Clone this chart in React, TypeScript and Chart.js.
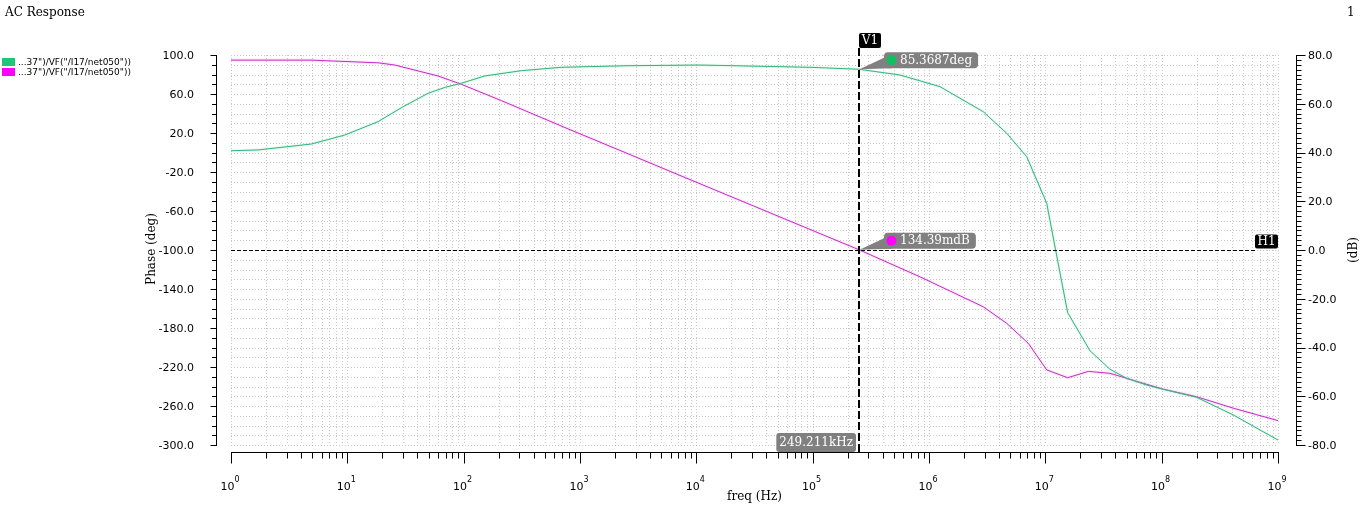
import React, { useEffect, useRef } from "react";
import { Chart, registerables } from "chart.js";

Chart.register(...registerables);

// ---- data ----
const phaseFreq = [1, 1.707, 4.9, 9.49, 18.35, 30, 49.4, 70, 95.4, 151.7, 313, 691, 2586, 10760, 94900, 249211, 563600, 1.244e6, 2.93e6, 4.66e6, 6.92e6, 1.028e7, 1.337e7, 1.557e7, 2.42e7, 3.6e7, 5.01e7, 7.44e7, 1.033e8, 2.0e8, 4.13e8, 1e9];
const phaseDeg = [1.8, 2.6, 8.7, 17.9, 31.6, 46.8, 60.7, 67.0, 71.0, 78.5, 83.9, 87.4, 89.0, 89.7, 87.4, 85.3687, 79.5, 67.5, 41.8, 19.7, -4.3, -52.1, -123.6, -164.3, -203.3, -222.4, -231.6, -238.5, -242.9, -251.1, -269.2, -294.9];

const magFreq = [1, 4.87, 18.35, 25.5, 60.2, 95.4, 210.6, 788.6, 2586, 4873, 30880, 249211, 837200, 2.93e6, 4.66e6, 7.14e6, 1.028e7, 1.557e7, 2.342e7, 3.6e7, 7.44e7, 1.033e8, 2.0e8, 4.13e8, 1e9];
const magDb = [77.9, 77.9, 76.8, 75.9, 71.4, 68.0, 61.3, 49.7, 39.5, 34.0, 18.1, 0.13439, -11.0, -23.3, -30.1, -38.3, -49.2, -52.4, -49.8, -50.6, -55.1, -57.1, -60.2, -64.9, -70.0];

const legendLabels = ['...37")/VF("/I17/net050"))', '...37")/VF("/I17/net050"))'];
const leftTicks = [100, 60, 20, -20, -60, -100, -140, -180, -220, -260, -300];
const rightTicks = [80, 60, 40, 20, 0, -20, -40, -60, -80];
const xTickExps = [0, 1, 2, 3, 4, 5, 6, 7, 8, 9];

const cursorFreq = 249211;
const cursorFreqLabel = "249.211kHz";
const cursorPhase = 85.3687;
const cursorPhaseLabel = "85.3687deg";
const cursorMag = 0.13439;
const cursorMagLabel = "134.39mdB";
const hLevelDb = 0;

const GREEN = "#1cc878";
const GREEN_LINE = "#34b47e";
const MAG = "#ff00ff";
const MAG_LINE = "#c42ec4";

const SERIF = '"DejaVu Serif"';
const SANS = '"DejaVu Sans"';

function seg(ctx: CanvasRenderingContext2D, x1: number, y1: number, x2: number, y2: number) {
  ctx.beginPath();
  ctx.moveTo(x1, y1);
  ctx.lineTo(x2, y2);
  ctx.stroke();
}

const decor = {
  id: "decor",
  beforeDatasetsDraw(chart: any) {
    const { ctx, chartArea: a, scales } = chart;
    const x = scales.x, yL = scales.yL;
    ctx.save();
    ctx.strokeStyle = "#c9c9c9";
    ctx.lineWidth = 1;
    ctx.setLineDash([1, 2]);
    for (let v = -300; v <= 100; v += 10) {
      const py = Math.round(yL.getPixelForValue(v)) + 0.5;
      seg(ctx, a.left, py, a.right, py);
    }
    for (const e of xTickExps) {
      for (let m = 1; m <= 9; m++) {
        if (e === 9 && m > 1) break;
        const px = Math.round(x.getPixelForValue(m * Math.pow(10, e))) + 0.5;
        seg(ctx, px, a.top, px, a.bottom);
      }
    }
    ctx.restore();
  },
  beforeDatasetDraw(chart: any, args: any) {
    const ctx = chart.ctx;
    ctx.save();
    ctx.shadowColor = args.index === 0 ? "rgba(120,220,170,0.7)" : "rgba(250,130,250,0.7)";
    ctx.shadowBlur = 2;
  },
  afterDatasetDraw(chart: any) {
    chart.ctx.restore();
  },
  afterDatasetsDraw(chart: any) {
    const { ctx, chartArea: a, scales } = chart;
    const x = scales.x, yL = scales.yL, yR = scales.yR;
    ctx.save();

    // H1 horizontal cursor
    const hy = Math.round(yR.getPixelForValue(hLevelDb)) + 0.5;
    ctx.strokeStyle = "#000";
    ctx.lineWidth = 1;
    ctx.setLineDash([4, 2]);
    seg(ctx, a.left, hy, a.right - 23, hy);
    ctx.setLineDash([]);
    ctx.fillStyle = "#000";
    ctx.beginPath();
    ctx.roundRect(a.right - 23, hy - 16, 23, 14, 2);
    ctx.fill();
    ctx.fillStyle = "#fff";
    ctx.font = `12px ${SERIF}`;
    ctx.textAlign = "center";
    ctx.textBaseline = "middle";
    ctx.fillText("H1", a.right - 11.5, hy - 8.5);

    // V1 vertical cursor
    const vx = Math.round(x.getPixelForValue(cursorFreq));
    ctx.strokeStyle = "#000";
    ctx.lineWidth = 2;
    ctx.setLineDash([8, 3]);
    seg(ctx, vx, 48, vx, 452);
    ctx.setLineDash([]);
    ctx.fillStyle = "#000";
    ctx.beginPath();
    ctx.roundRect(vx, 33, 22, 15, 2);
    ctx.fill();
    ctx.fillStyle = "#fff";
    ctx.fillText("V1", vx + 11, 41);

    // marker annotations
    const marker = (py: number, color: string, text: string) => {
      ctx.font = `12px ${SERIF}`;
      const tw = ctx.measureText(text).width;
      const bl = vx + 25, bt = py - 17, bh = 16, bw = tw + 22;
      ctx.fillStyle = "#808080";
      ctx.beginPath();
      ctx.moveTo(vx + 0.5, py);
      ctx.lineTo(bl + 1, bt + 5);
      ctx.lineTo(bl + 8, bt + bh);
      ctx.closePath();
      ctx.fill();
      ctx.beginPath();
      ctx.roundRect(bl, bt, bw, bh, 4);
      ctx.fill();
      ctx.fillStyle = color;
      ctx.beginPath();
      ctx.arc(bl + 7.5, bt + 8, 5, 0, Math.PI * 2);
      ctx.closePath();
      ctx.fill();
      ctx.fillStyle = "#fff";
      ctx.textAlign = "left";
      ctx.textBaseline = "middle";
      ctx.fillText(text, bl + 16, bt + 8.5);
    };
    marker(yL.getPixelForValue(cursorPhase), "#10c060", cursorPhaseLabel);
    marker(yR.getPixelForValue(cursorMag), MAG, cursorMagLabel);

    // x cursor label
    ctx.font = `12px ${SERIF}`;
    const fw = ctx.measureText(cursorFreqLabel).width + 6;
    ctx.fillStyle = "#808080";
    ctx.beginPath();
    ctx.roundRect(vx - 3 - fw, 433, fw, 19, 3);
    ctx.fill();
    ctx.fillStyle = "#fff";
    ctx.textAlign = "center";
    ctx.textBaseline = "middle";
    ctx.fillText(cursorFreqLabel, vx - 3 - fw / 2, 443);

    // ---- axes ----
    ctx.strokeStyle = "#000";
    ctx.fillStyle = "#000";
    ctx.lineWidth = 1;

    // left axis
    const axL = 216.5;
    seg(ctx, axL, Math.round(yL.getPixelForValue(100)), axL, Math.round(yL.getPixelForValue(-300)) + 1);
    for (let v = -300; v <= 100; v += 10) {
      const py = Math.round(yL.getPixelForValue(v)) + 0.5;
      const major = leftTicks.includes(v);
      seg(ctx, axL - (major ? 6 : 4.5), py, axL, py);
    }
    ctx.font = `11px ${SANS}`;
    ctx.textAlign = "right";
    ctx.textBaseline = "middle";
    for (const v of leftTicks) {
      ctx.fillText(v.toFixed(1), 194, yL.getPixelForValue(v) + 1);
    }

    // right axis
    const axR = 1296.5;
    seg(ctx, axR, Math.round(yR.getPixelForValue(80)), axR, Math.round(yR.getPixelForValue(-80)) + 1);
    for (let v = -80; v <= 80; v += 2) {
      const py = Math.round(yR.getPixelForValue(v)) + 0.5;
      const major = rightTicks.includes(v);
      seg(ctx, axR, py, axR + (major ? 9 : 5), py);
    }
    ctx.textAlign = "left";
    for (const v of rightTicks) {
      ctx.fillText(v.toFixed(1), 1308, yR.getPixelForValue(v) + 1);
    }

    // bottom axis
    const axB = 452.5;
    seg(ctx, Math.round(x.getPixelForValue(1)), axB, Math.round(x.getPixelForValue(1e9)) + 1, axB);
    for (const e of xTickExps) {
      for (let m = 1; m <= 9; m++) {
        if (e === 9 && m > 1) break;
        const px = Math.round(x.getPixelForValue(m * Math.pow(10, e))) + 0.5;
        seg(ctx, px, axB, px, axB + (m === 1 ? 11 : 6));
      }
    }
    ctx.textBaseline = "alphabetic";
    ctx.textAlign = "left";
    for (const e of xTickExps) {
      const px = x.getPixelForValue(Math.pow(10, e));
      ctx.font = `11px ${SANS}`;
      const w1 = ctx.measureText("10").width;
      ctx.font = `8px ${SANS}`;
      const w2 = ctx.measureText(String(e)).width;
      const sx = px - (w1 + w2) / 2 - 1;
      ctx.font = `11px ${SANS}`;
      ctx.fillText("10", sx, 490);
      ctx.font = `8px ${SANS}`;
      ctx.fillText(String(e), sx + w1, 482);
    }

    // axis titles
    ctx.font = `12px ${SERIF}`;
    ctx.textAlign = "center";
    ctx.textBaseline = "middle";
    ctx.fillText("freq (Hz)", (a.left + a.right) / 2, 497);
    ctx.save();
    ctx.translate(152, 249);
    ctx.rotate(-Math.PI / 2);
    ctx.fillText("Phase (deg)", 0, 0);
    ctx.restore();
    ctx.save();
    ctx.translate(1354, 250);
    ctx.rotate(-Math.PI / 2);
    ctx.fillText("(dB)", 0, 0);
    ctx.restore();

    // title & page number
    ctx.textAlign = "left";
    ctx.font = `12px ${SERIF}`;
    ctx.fillText("AC Response", 5, 13);
    ctx.fillText("1", 1347, 13);

    // legend
    const legColors = [GREEN, MAG];
    ctx.font = `9px ${SANS}`;
    legendLabels.forEach((lab, i) => {
      const ly = 58 + i * 10;
      ctx.fillStyle = legColors[i];
      ctx.fillRect(2, ly, 13, 8);
      ctx.fillStyle = "#000";
      ctx.fillText(lab, 18, ly + 4.5);
    });

    ctx.restore();
  },
};

export default function App() {
  const ref = useRef<HTMLCanvasElement>(null);
  useEffect(() => {
    const chart = new Chart(ref.current as HTMLCanvasElement, {
      type: "line",
      data: {
        datasets: [
          {
            label: legendLabels[0],
            data: phaseFreq.map((f, i) => ({ x: f, y: phaseDeg[i] })),
            yAxisID: "yL",
            borderColor: GREEN_LINE,
            borderWidth: 1,
            pointRadius: 0,
            tension: 0,
            fill: false,
          },
          {
            label: legendLabels[1],
            data: magFreq.map((f, i) => ({ x: f, y: magDb[i] })),
            yAxisID: "yR",
            borderColor: MAG_LINE,
            borderWidth: 1,
            pointRadius: 0,
            tension: 0,
            fill: false,
          },
        ],
      },
      options: {
        animation: false,
        responsive: false,
        maintainAspectRatio: false,
        devicePixelRatio: 1,
        events: [],
        layout: { padding: { left: 231, right: 84, top: 55, bottom: 64 } },
        plugins: { legend: { display: false }, tooltip: { enabled: false }, title: { display: false } },
        scales: {
          x: { type: "logarithmic", min: 1, max: 1e9, display: false },
          yL: { type: "linear", position: "left", min: -300, max: 100, display: false },
          yR: { type: "linear", position: "right", min: -80, max: 80, display: false },
        },
      } as any,
      plugins: [decor as any],
    });
    return () => chart.destroy();
  }, []);
  return (
    <div style={{ position: "absolute", left: 0, top: 0, width: 1362, height: 509, background: "#fff" }}>
      <canvas ref={ref} width={1362} height={509} style={{ display: "block", width: 1362, height: 509 }} />
    </div>
  );
}
